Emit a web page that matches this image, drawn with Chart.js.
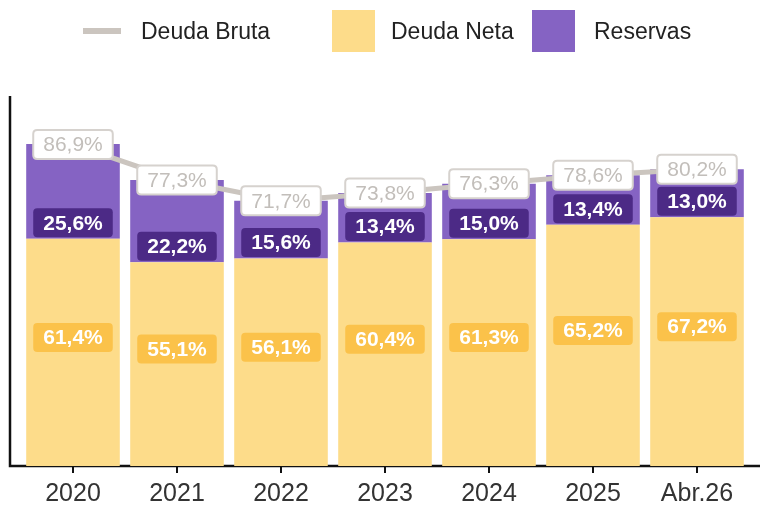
<!DOCTYPE html>
<html>
<head>
<meta charset="utf-8">
<script src="https://cdn.jsdelivr.net/npm/chart.js@4/dist/chart.umd.min.js"></script>
<style>
  html, body { margin: 0; padding: 0; background: #fff; }
  #wrap { position: relative; width: 760px; height: 509px; }
  #leyenda { position: absolute; top: 0; left: 0; width: 760px; height: 60px;
    font-family: "Liberation Sans", Arial, sans-serif; font-size: 23px; color: #222; }
  .item { position: absolute; top: 10px; height: 42px; line-height: 42px; }
  .linea { position: absolute; top: 28px; width: 38px; height: 6px; background: #cbc5bf; }
  .caja { position: absolute; top: 10px; width: 43px; height: 42px; }
</style>
</head>
<body>
<div id="wrap">
  <canvas id="grafico" width="760" height="509"></canvas>
  <div id="leyenda">
    <div class="linea" style="left:83px"></div>
    <div class="item" style="left:141px">Deuda Bruta</div>
    <div class="caja" style="left:332px;background:#fddc8a"></div>
    <div class="item" style="left:391px">Deuda Neta</div>
    <div class="caja" style="left:532px;background:#8563c3"></div>
    <div class="item" style="left:594px">Reservas</div>
  </div>
</div>
<script>
'use strict';

// categorias del eje x
var periodos = ["2020", "2021", "2022", "2023", "2024", "2025", "Abr.26"];
// valores en % del PIB
var deuda_neta = [61.4, 55.1, 56.1, 60.4, 61.3, 65.2, 67.2];
var reservas = [25.6, 22.2, 15.6, 13.4, 15.0, 13.4, 13.0];
var deuda_bruta = [86.9, 77.3, 71.7, 73.8, 76.3, 78.6, 80.2];

function fmt(v) {
	return v.toFixed(1).replace(".", ",") + "%";
}

function cajaRedonda(ctx, x, y, w, h, r) {
	ctx.beginPath();
	ctx.moveTo(x + r, y);
	ctx.lineTo(x + w - r, y);
	ctx.quadraticCurveTo(x + w, y, x + w, y + r);
	ctx.lineTo(x + w, y + h - r);
	ctx.quadraticCurveTo(x + w, y + h, x + w - r, y + h);
	ctx.lineTo(x + r, y + h);
	ctx.quadraticCurveTo(x, y + h, x, y + h - r);
	ctx.lineTo(x, y + r);
	ctx.quadraticCurveTo(x, y, x + r, y);
	ctx.closePath();
}

function etiqueta(ctx, txt, cx, cy, fondo, borde, color, bold) {
	ctx.font = (bold ? "bold " : "") + "21px 'Liberation Sans', Arial, sans-serif";
	var w = ctx.measureText(txt).width + 20;
	var h = 29;
	cajaRedonda(ctx, cx - w / 2, cy - h / 2, w, h, 4);
	ctx.fillStyle = fondo;
	ctx.fill();
	if (borde) {
		ctx.lineWidth = 2;
		ctx.strokeStyle = borde;
		ctx.stroke();
	}
	ctx.fillStyle = color;
	ctx.textAlign = "center";
	ctx.textBaseline = "middle";
	ctx.fillText(txt, cx, cy + 1);
}

// ejes negros y etiquetas con caja
var extras = {
	id: 'extras',
	beforeDatasetsDraw: function(chart) {
		var ctx = chart.ctx;
		var a = chart.chartArea;
		ctx.save();
		ctx.strokeStyle = "#111";
		ctx.lineWidth = 2.5;
		ctx.beginPath();
		ctx.moveTo(a.left - 11, a.top);
		ctx.lineTo(a.left - 11, a.bottom);
		ctx.lineTo(chart.width, a.bottom);
		ctx.stroke();
		ctx.restore();
	},
	afterDraw: function(chart) {
		var ctx = chart.ctx;
		var mNeta = chart.getDatasetMeta(1);
		var mRes = chart.getDatasetMeta(2);
		var mBruta = chart.getDatasetMeta(0);
		ctx.save();
		for (var i = 0; i < periodos.length; i++) {
			var b = mNeta.data[i];
			etiqueta(ctx, fmt(deuda_neta[i]), b.x, (b.y + b.base) / 2 - 15, "#fbc24a", null, "#fff", true);
			var r = mRes.data[i];
			etiqueta(ctx, fmt(reservas[i]), r.x, r.base - 16, "#4c2a86", null, "#fff", true);
			var p = mBruta.data[i];
			etiqueta(ctx, fmt(deuda_bruta[i]), p.x, p.y, "#fff", "#d6d2ce", "#c2beba", false);
		}
		ctx.restore();
	}
};

var ctx = document.getElementById("grafico");
var grafico = new Chart(ctx, {
	type: 'bar',
	data: {
		labels: periodos,
		datasets: [{
			type: 'line',
			label: 'Deuda Bruta',
			data: deuda_bruta,
			borderColor: "#cbc5bf",
			borderWidth: 5,
			pointRadius: 0,
			tension: 0,
			stack: 'bruta',
			order: 0
		}, {
			label: 'Deuda Neta',
			data: deuda_neta,
			backgroundColor: "#fddc8a",
			stack: 'deuda',
			order: 1,
			barPercentage: 0.9,
			categoryPercentage: 1
		}, {
			label: 'Reservas',
			data: reservas,
			backgroundColor: "#8563c3",
			stack: 'deuda',
			order: 2,
			barPercentage: 0.9,
			categoryPercentage: 1
		}]
	},
	options: {
		responsive: false,
		animation: false,
		layout: { padding: { left: 21, right: 11, top: 96, bottom: 0 } },
		plugins: {
			legend: { display: false },
			tooltip: { enabled: false }
		},
		scales: {
			x: {
				stacked: true,
				border: { display: false },
				grid: { display: true, drawOnChartArea: false, offset: false, tickLength: 7, color: "#111", lineWidth: 2 },
				ticks: { color: "#333", padding: 6, font: { family: "'Liberation Sans', Arial, sans-serif", size: 25 } },
				afterFit: function(s) { s.height = 43; }
			},
			y: {
				stacked: true,
				display: false,
				min: 0,
				max: 100
			}
		}
	},
	plugins: [extras]
});
</script>
</body>
</html>
